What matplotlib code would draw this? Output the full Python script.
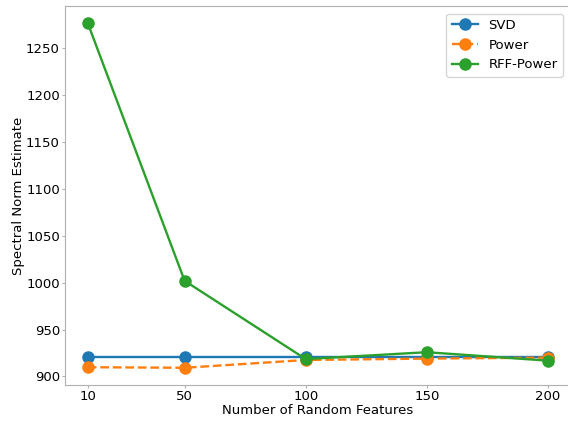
from matplotlib import pyplot as plt

features = [10, 50, 100, 150, 200]
svd = [920.6, 920.6, 920.6, 920.6, 920.6]
power = [909.8, 909.2, 917.5, 919.0, 920.0]
rff_power = [1277.0, 1002.0, 918.5, 925.8, 916.8]

plt.rcParams['font.size'] = 9.5
fig = plt.figure(figsize=(5.68, 4.21), dpi=100)
ax = fig.add_axes([0.114, 0.0855, 0.891, 0.9005])

ax.plot(features, svd, '-o', color='#1f77b4', lw=1.7, ms=8, label='SVD')
ax.plot(features, power, '--o', color='#ff7f0e', lw=1.7, ms=8, label='Power')
ax.plot(features, rff_power, '-o', color='#2ca02c', lw=1.7, ms=8, label='RFF-Power')

ax.set_xticks(features)
ax.set_xlabel('Number of Random Features', labelpad=1)
ax.set_ylabel('Spectral Norm Estimate', labelpad=1)
for s in ax.spines.values():
    s.set_color('#b0b0b0')
ax.tick_params(colors='#b0b0b0', labelcolor='black', length=2, pad=1.5)
ax.legend(loc='upper right', borderaxespad=0.6)

fig.savefig('out.png', dpi=100)
